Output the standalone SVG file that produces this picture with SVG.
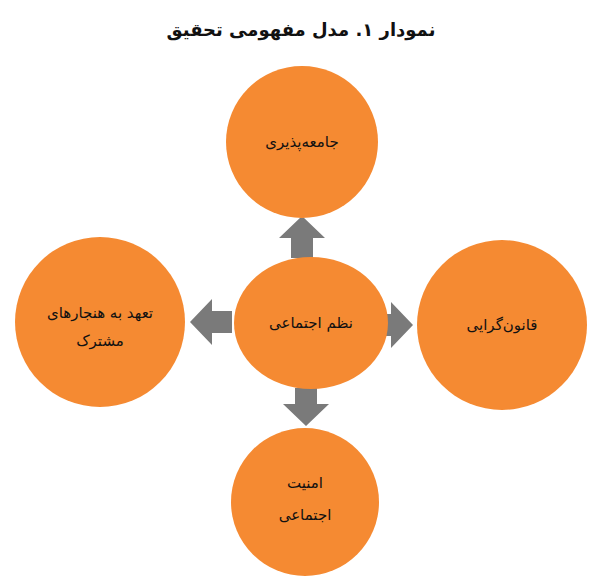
<svg xmlns="http://www.w3.org/2000/svg" width="602" height="585" viewBox="0 0 602 585">
<style>
.n{fill:#F58A32}
.t{font-family:"DejaVu Sans",sans-serif;font-size:15px;fill:#111;text-anchor:middle;direction:rtl}
.a{fill:#7a7a7a}
</style>
<rect width="602" height="585" fill="#fff"/>
<text x="301" y="36" class="t" style="font-size:18px;font-weight:bold">نمودار ۱. مدل مفهومی تحقیق</text>
<g id="connectors">
<polygon class="a" points="302,216 325,238 313,238 313,258 291,258 291,238 279,238"/>
<polygon class="a" points="190,322 212,299 212,311 232,311 232,333 212,333 212,345"/>
<polygon class="a" points="413,325 391,302 391,314 384,314 384,336 391,336 391,348"/>
<polygon class="a" points="306,426 283,404 295,404 295,388 317,388 317,404 329,404"/>
</g>
<g id="top"><circle class="n" cx="302" cy="142" r="76"/><text class="t" x="302" y="147">جامعه‌پذیری</text></g>
<g id="center"><ellipse class="n" cx="311" cy="323" rx="77" ry="66"/><text class="t" x="311" y="328">نظم اجتماعی</text></g>
<g id="left"><circle class="n" cx="100" cy="322" r="85"/><text class="t" x="100" y="318">تعهد به هنجارهای</text><text class="t" x="100" y="346">مشترک</text></g>
<g id="right"><circle class="n" cx="502" cy="325" r="85"/><text class="t" x="502" y="330">قانون‌گرایی</text></g>
<g id="bottom"><circle class="n" cx="305" cy="502" r="74"/><text class="t" x="305" y="488">امنیت</text><text class="t" x="305" y="520">اجتماعی</text></g>
</svg>
